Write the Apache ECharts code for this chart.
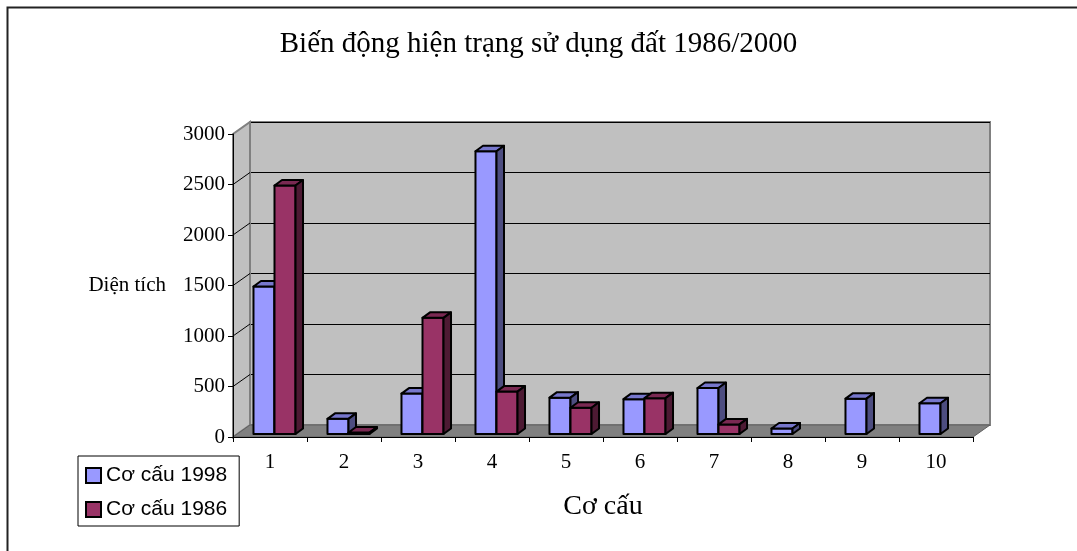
<!DOCTYPE html>
<html>
<head>
<meta charset="utf-8">
<script src="https://cdn.jsdelivr.net/npm/echarts@6/dist/echarts.min.js"></script>
<style>html,body{margin:0;padding:0;background:#fff}#c{width:1077px;height:551px}</style>
</head>
<body>
<div id="c"></div>
<script>
const titleText = 'Biến động hiện trạng sử dụng đất 1986/2000';
const xName = 'Cơ cấu';
const yName = 'Diện tích';
const categories = ['1','2','3','4','5','6','7','8','9','10'];
const seriesNames = ['Cơ cấu 1998', 'Cơ cấu 1986'];
const values1998 = [1460, 150, 400, 2800, 360, 345, 455, 55, 350, 305];
const values1986 = [2460, 15, 1150, 420, 260, 355, 95, null, null, null];
const yMin = 0, yMax = 3000, yStep = 500;

// styling constants (3D depth look)
const WALL_DX = 17, WALL_DY = -12;
const BAR_DX = 7.5, BAR_DY = -5.5;
const BAR_OX = 4.5, BAR_OY = -3;
const BAR_FRAC = 0.284;

const faceColors = [
  {front: '#9999ff', top: '#7777cc', side: '#4d4d80'},
  {front: '#993366', top: '#7a2952', side: '#4d1a33'}
];

function barRenderer(sIdx) {
  return function (params, api) {
    const v = api.value(1);
    if (v == null || isNaN(v)) return;
    const i = api.value(0);
    const base = api.coord([i, 0]);
    const top = api.coord([i, v]);
    const cw = api.size([1, 0])[0];
    const bw = cw * BAR_FRAC;
    const x0 = base[0] - bw + sIdx * bw + BAR_OX;
    const yb = base[1] + BAR_OY;
    const yt = top[1] + BAR_OY;
    const c = faceColors[sIdx];
    const st = {stroke: '#000', lineWidth: 2, lineJoin: 'round'};
    return {
      type: 'group',
      children: [
        {type: 'polygon', shape: {points: [[x0, yt], [x0 + bw, yt], [x0 + bw, yb], [x0, yb]]}, style: Object.assign({fill: c.front}, st)},
        {type: 'polygon', shape: {points: [[x0, yt], [x0 + bw, yt], [x0 + bw + BAR_DX, yt + BAR_DY], [x0 + BAR_DX, yt + BAR_DY]]}, style: Object.assign({fill: c.top}, st)},
        {type: 'polygon', shape: {points: [[x0 + bw, yt], [x0 + bw + BAR_DX, yt + BAR_DY], [x0 + bw + BAR_DX, yb + BAR_DY], [x0 + bw, yb]]}, style: Object.assign({fill: c.side}, st)}
      ]
    };
  };
}

function decorRenderer(params, api) {
  if (params.dataIndex !== 0) return;
  const cw = api.size([1, 0])[0];
  const xl = api.coord([0, 0])[0] - cw / 2;
  const xr = api.coord([categories.length - 1, 0])[0] + cw / 2;
  const y0 = api.coord([0, yMin])[1];
  const y1 = api.coord([0, yMax])[1];
  const children = [];
  // left wall
  children.push({type: 'polygon', shape: {points: [[xl, y0], [xl, y1], [xl + WALL_DX, y1 + WALL_DY], [xl + WALL_DX, y0 + WALL_DY]]},
    style: {fill: '#c0c0c0', stroke: '#808080', lineWidth: 2}});
  for (let v = yMin + yStep; v < yMax; v += yStep) {
    const y = api.coord([0, v])[1];
    children.push({type: 'line', shape: {x1: xl, y1: y, x2: xl + WALL_DX, y2: y + WALL_DY}, style: {stroke: '#000', lineWidth: 1}});
  }
  // floor
  children.push({type: 'polygon', shape: {points: [[xl, y0], [xr, y0], [xr + WALL_DX, y0 + WALL_DY], [xl + WALL_DX, y0 + WALL_DY]]},
    style: {fill: '#808080', stroke: '#606060', lineWidth: 1}});
  return {type: 'group', children: children};
}

const chart = echarts.init(document.getElementById('c'), null, {renderer: 'canvas'});
const serif = 'Liberation Serif';
const option = {
  backgroundColor: '#fff',
  animation: false,
  title: {text: titleText, left: 'center', top: 25,
    textStyle: {fontFamily: serif, fontSize: 29, fontWeight: 'normal', color: '#000'}},
  legend: {
    data: seriesNames, orient: 'vertical', left: 78, top: 456,
    icon: 'rect', itemWidth: 15, itemHeight: 15, itemGap: 13,
    padding: [9, 12, 6, 7], borderColor: '#000', borderWidth: 1,
    itemStyle: {borderColor: '#000', borderWidth: 2},
    textStyle: {fontFamily: 'Liberation Sans', fontSize: 21, color: '#000'}
  },
  graphic: [{type: 'rect', shape: {x: 7.5, y: 7.5, width: 1200, height: 700}, style: {fill: 'none', stroke: '#222', lineWidth: 2}, z: 100}],
  grid: [
    {left: 233, right: 104, top: 134, bottom: 114, containLabel: false},
    {left: 250, right: 87, top: 122, bottom: 126, show: true, backgroundColor: '#c0c0c0', borderColor: '#808080', borderWidth: 2}
  ],
  xAxis: [
    {type: 'category', gridIndex: 0, data: categories, z: 5,
      name: xName, nameLocation: 'middle', nameGap: 56,
      nameTextStyle: {fontFamily: serif, fontSize: 28, color: '#000'},
      axisLine: {lineStyle: {color: '#000', width: 1}},
      axisTick: {show: true, length: 5, lineStyle: {color: '#000'}},
      axisLabel: {fontFamily: serif, fontSize: 21, color: '#000', margin: 15},
      splitLine: {show: false}},
    {type: 'category', gridIndex: 1, data: categories, show: false}
  ],
  yAxis: [
    {type: 'value', gridIndex: 0, min: yMin, max: yMax, interval: yStep, z: 5,
      name: yName, nameLocation: 'middle', nameRotate: 0, nameGap: 67,
      nameTextStyle: {fontFamily: serif, fontSize: 21, color: '#000', align: 'right', padding: [8, 0, 0, 0]},
      axisLine: {show: true, lineStyle: {color: '#000', width: 1}},
      axisTick: {show: true, length: 5, lineStyle: {color: '#000'}},
      axisLabel: {fontFamily: serif, fontSize: 21, color: '#000', margin: 8, formatter: function (v) { return String(v); }},
      splitLine: {show: false}},
    {type: 'value', gridIndex: 1, min: yMin, max: yMax, interval: yStep,
      axisLine: {show: false}, axisTick: {show: false}, axisLabel: {show: false},
      splitLine: {show: true, lineStyle: {color: '#000', width: 1}}}
  ],
  series: [
    {type: 'custom', name: 'decor', xAxisIndex: 0, yAxisIndex: 0, z: 1, silent: true,
      renderItem: decorRenderer, data: [[0, 0]], encode: {x: 0, y: 1}, legendHoverLink: false},
    {type: 'custom', name: seriesNames[0], xAxisIndex: 0, yAxisIndex: 0, z: 3,
      itemStyle: {color: faceColors[0].front},
      renderItem: barRenderer(0), data: values1998.map((v, i) => [i, v]), encode: {x: 0, y: 1}},
    {type: 'custom', name: seriesNames[1], xAxisIndex: 0, yAxisIndex: 0, z: 3,
      itemStyle: {color: faceColors[1].front},
      renderItem: barRenderer(1), data: values1986.map((v, i) => [i, v]), encode: {x: 0, y: 1}}
  ]
};
chart.setOption(option);
</script>
</body>
</html>
